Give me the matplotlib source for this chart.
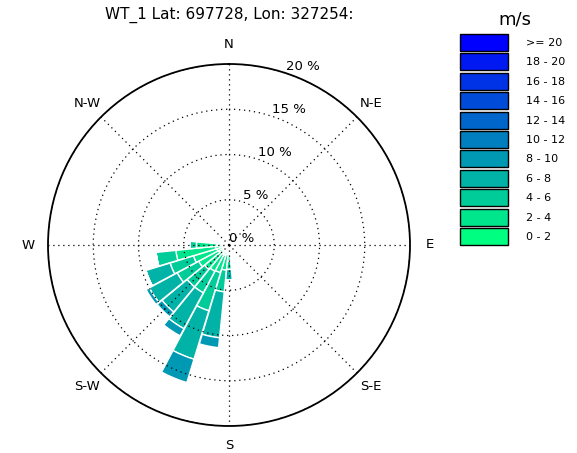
import numpy as np
import matplotlib.pyplot as plt
from matplotlib.patches import Patch

title = "WT_1 Lat: 697728, Lon: 327254:"
speed_labels = ["0 - 2", "2 - 4", "4 - 6", "6 - 8", "8 - 10", "10 - 12",
                "12 - 14", "14 - 16", "16 - 18", "18 - 20", ">= 20"]
compass_labels = ["N", "N-E", "E", "S-E", "S", "S-W", "W", "N-W"]

# wind direction (deg, 32 sectors) and frequency (%) per speed bin
directions = [180.0, 191.25, 202.5, 213.75, 225.0, 236.25, 247.5, 258.75, 270.0]
freq_0_2 = [1.0, 1.0, 1.2, 1.2, 1.2, 1.3, 1.4, 1.5, 1.3]
freq_2_4 = [0.8, 1.8, 2.0, 2.1, 2.3, 2.5, 2.7, 4.4, 2.3]
freq_4_6 = [0.9, 2.4, 4.4, 2.7, 2.5, 2.7, 2.7, 2.2, 0.7]
freq_6_8 = [1.2, 5.1, 5.6, 4.5, 3.6, 3.5, 2.8, 0.0, 0.0]
freq_8_10 = [0.0, 1.1, 2.7, 0.9, 0.7, 0.4, 0.0, 0.0, 0.0]

nsector = 32
table = np.array([freq_0_2, freq_2_4, freq_4_6, freq_6_8, freq_8_10])
colors = plt.cm.winter_r(np.linspace(0, 1, len(speed_labels)))

fig = plt.figure(figsize=(5.77, 4.53), dpi=100)
ax = fig.add_axes([48 / 577, 27 / 453, 362 / 577, 362 / 453], projection="polar")
ax.set_theta_zero_location("N")
ax.set_theta_direction(-1)

theta = np.radians(directions)
width = 2 * np.pi / nsector * 0.97
bottom = np.zeros(len(directions))
for i, row in enumerate(table):
    ax.bar(theta, row, width=width, bottom=bottom, color=colors[i],
           edgecolor="white", linewidth=1.0)
    bottom += row

ax.set_ylim(0, 20)
ax.set_rgrids([0, 5, 10, 15, 20], labels=["0 %", "5 %", "10 %", "15 %", "20 %"],
              angle=18.5, fontsize=9.5)
ax.set_thetagrids(np.arange(0, 360, 45), labels=compass_labels, fontsize=9.5)
ax.grid(True, color="black", linestyle=(0, (1, 3)), linewidth=0.9)
ax.spines["polar"].set_color("black")
ax.spines["polar"].set_linewidth(1.3)

fig.text(229 / 577, 1 - 15 / 453, title, ha="center", va="center", fontsize=11)

# legend, with its title placed separately
handles = [Patch(facecolor=colors[i], edgecolor="black", label=speed_labels[i])
           for i in range(len(speed_labels))][::-1]
leg = fig.legend(handles=handles, loc="upper left", bbox_to_anchor=(460 / 577, 1 - 34 / 453),
                 frameon=False, fontsize=8,
                 handlelength=4.35, handleheight=1.97, labelspacing=0.22,
                 handletextpad=1.6, borderpad=0, borderaxespad=0)
fig.text(515 / 577, 1 - 20 / 453, "m/s", ha="center", va="center", fontsize=13)

fig.savefig("out.png", dpi=100)
